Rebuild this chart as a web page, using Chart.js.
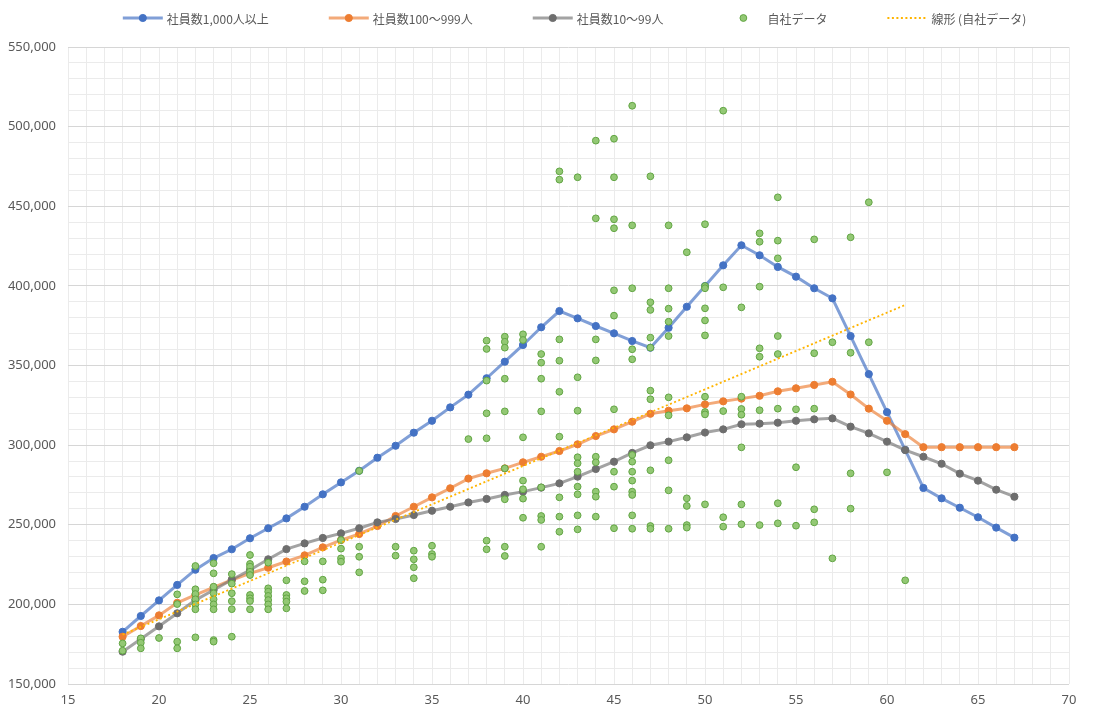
<!DOCTYPE html>
<html>
<head>
<meta charset="utf-8">
<script src="https://cdn.jsdelivr.net/npm/chart.js@4.4.0/dist/chart.umd.min.js"></script>
<style>
html,body{margin:0;padding:0;background:#ffffff;}
#wrap{width:1095px;height:716px;position:relative;}
</style>
</head>
<body>
<div id="wrap"><canvas id="c" width="1095" height="716"></canvas></div>
<script>
// ---- data ----
const seriesLabels = ['社員数1,000人以上', '社員数100〜999人', '社員数10〜99人', '自社データ', '線形 (自社データ)'];

const ages = [18,19,20,21,22,23,24,25,26,27,28,29,30,31,32,33,34,35,36,37,38,39,40,41,42,
              43,44,45,46,47,48,49,50,51,52,53,54,55,56,57,58,59,60,61,62,63,64,65,66,67];

const payLarge = [182800,192700,202500,212200,221800,229100,234600,241500,247800,254000,
                  261300,269100,276600,283900,292100,299600,307800,315300,323700,331700,
                  342000,352400,362900,374000,384200,379600,374800,370200,365400,361200,
                  373700,386900,399900,412900,425500,419200,411900,405800,398500,392200,
                  368500,344600,320700,297000,273100,266600,260700,254700,248200,241900];

const payMedium = [179700,186400,193100,201000,205900,210700,215300,219500,223000,226900,
                   230800,235800,240400,244200,249200,255500,261300,267200,272900,279000,
                   282300,285400,289200,292700,296300,300500,305700,309900,314700,319700,
                   321600,323100,325600,327500,329200,331000,333800,335700,337800,339800,
                   331800,322900,315300,306900,298700,298700,298700,298700,298700,298700];

const paySmall = [170300,178200,186200,194400,202700,209000,215500,221600,228300,234700,
                  238300,241700,244600,247800,251500,253600,256100,258800,261300,264000,
                  266200,268700,270800,273300,276000,280200,285000,289600,295100,299900,
                  302200,304900,307900,309900,313100,313500,314100,315300,316200,316800,
                  311600,307400,302200,296900,292700,288300,282100,277700,272000,267600];

const ownAges = [
  18,18,
  19,19,19,
  20,
  21,21,21,21,
  22,22,22,22,22,22,22,
  23,23,23,23,23,23,23,23,23,
  24,24,24,24,24,24,
  25,25,25,25,25,25,25,25,25,
  26,26,26,26,26,26,26,
  27,27,27,27,27,
  28,28,28,
  29,29,29,
  30,30,30,30,
  31,31,31,31,
  33,33,
  34,34,34,34,
  35,35,35,
  37,
  38,38,38,38,38,38,38,
  39,39,39,39,39,39,39,39,39,
  40,40,40,40,40,40,40,
  41,41,41,41,41,41,41,41,
  42,42,42,42,42,42,42,42,42,
  43,43,43,43,43,43,43,43,43,43,
  44,44,44,44,44,44,44,44,44,
  45,45,45,45,45,45,45,45,45,45,
  46,46,46,46,46,46,46,46,46,46,46,46,46,
  47,47,47,47,47,47,47,47,47,47,
  48,48,48,48,48,48,48,48,48,48,
  49,49,49,49,49,
  50,50,50,50,50,50,50,50,50,50,
  51,51,51,51,51,
  52,52,52,52,52,52,52,
  53,53,53,53,53,53,53,
  54,54,54,54,54,54,54,54,
  55,55,55,
  56,56,56,56,56,
  57,57,
  58,58,58,58,
  59,59,
  60,
  61
];

const ownPay = [
  175500,170900,
  178700,175900,172400,
  178900,
  206300,200200,176600,172400,
  224100,209500,206500,203200,200000,196900,179300,
  225800,219500,211100,206900,203200,200000,196900,177600,176600,
  219000,213000,207000,202000,197000,179700,
  231000,225400,223700,220500,218400,205900,203800,202100,196900,
  226200,210100,208000,205300,202700,200000,196900,
  215100,205900,203800,201700,197500,
  227000,214500,208400,
  227000,215500,208800,
  240400,235000,228900,226800,
  283800,236200,229900,220100,
  236200,230600,
  233700,228300,223300,216400,
  236800,231600,229900,
  303800,
  365600,360400,340500,320000,304300,240000,234600,
  368100,364900,361200,341700,321200,285400,266000,236200,230400,
  369600,366000,304900,277700,272300,266400,254400,
  357200,351800,341700,321200,273500,255500,253000,236200,
  471900,466700,366400,353000,333500,305300,267200,255100,245600,
  468200,342600,321600,292400,288600,283300,273900,269100,255900,247100,
  491200,442400,366400,353200,292700,289200,270800,267600,255100,
  492400,468200,441800,436200,397200,381300,322500,283300,273900,247800,
  513100,438000,398500,360200,353900,293800,289600,283300,277700,270800,268700,255900,247500,
  468800,389700,384900,367500,361200,334200,328800,284200,249200,247500,
  438000,398500,385700,377500,368500,330000,318700,290500,271600,247500,
  421100,266600,261800,249800,248200,
  438700,399900,398500,385900,378300,368900,330400,320800,319300,262800,
  510000,399100,321400,254700,248800,
  386500,330400,322700,319100,298600,262800,250300,
  433000,427700,399500,360800,355500,321900,249800,
  455600,428400,417300,368500,357200,322900,263500,250900,
  322500,286100,249400,
  429200,357700,322900,259700,251500,
  364600,228900,
  430500,358000,282300,260100,
  452500,364600,
  282900,
  215100
];

// linear trendline of the company data: its two end points
const trendAges = [18, 61];
const trendPay = [181000, 388000];

// axis tick labels
const xTickLabels = [15,20,25,30,35,40,45,50,55,60,65,70];
const yTickLabels = [150000,200000,250000,300000,350000,400000,450000,500000,550000];

// ---- build library structures ----
const pts = (xs, ys) => xs.map((x, i) => ({x: x, y: ys[i]}));

const lineDs = (label, ys, line, marker, order) => ({
  label: label,
  data: pts(ages, ys),
  showLine: true,
  borderColor: line,
  backgroundColor: marker,
  borderWidth: 3,
  tension: 0,
  pointRadius: 3.6,
  pointBorderWidth: 1,
  pointBackgroundColor: marker,
  pointBorderColor: marker,
  order: order
});

const datasets = [
  lineDs(seriesLabels[0], payLarge, 'rgba(68,114,196,0.68)', '#4472C4', 4),
  lineDs(seriesLabels[1], payMedium, 'rgba(237,125,49,0.65)', '#ED7D31', 3),
  lineDs(seriesLabels[2], paySmall, 'rgba(120,120,120,0.68)', '#6E6E6E', 2),
  {
    label: seriesLabels[3],
    data: pts(ownAges, ownPay),
    showLine: false,
    pointRadius: 3.4,
    pointBorderWidth: 1,
    pointBackgroundColor: '#93C874',
    pointBorderColor: '#62A544',
    backgroundColor: '#93C874',
    borderColor: '#62A544',
    order: 1
  },
  {
    label: seriesLabels[4],
    data: pts(trendAges, trendPay),
    showLine: true,
    borderColor: '#FFB400',
    backgroundColor: '#FFB400',
    borderWidth: 1.8,
    borderDash: [2, 2.5],
    pointRadius: 0,
    tension: 0,
    order: 0
  }
];

// Excel-like legend (line + marker samples)
const excelLegend = {
  id: 'excelLegend',
  afterDraw(chart) {
    const ctx = chart.ctx;
    const dsList = chart.data.datasets;
    ctx.save();
    ctx.font = '12px "Noto Sans CJK JP", "Noto Sans", sans-serif';
    const sampleW = 40, textGap = 4, itemGap = 60;
    const widths = dsList.map(d => sampleW + textGap + ctx.measureText(d.label).width);
    const total = widths.reduce((a, b) => a + b, 0) + itemGap * (dsList.length - 1);
    const center = (chart.chartArea.left + chart.chartArea.right) / 2 + 6;
    let x = center - total / 2;
    const y = 18;
    dsList.forEach((d, i) => {
      const mid = x + sampleW / 2;
      if (d.showLine) {
        ctx.beginPath();
        ctx.setLineDash(d.borderDash || []);
        ctx.strokeStyle = d.borderColor;
        ctx.lineWidth = d.borderWidth;
        ctx.moveTo(x, y);
        ctx.lineTo(x + sampleW, y);
        ctx.stroke();
        ctx.setLineDash([]);
      }
      if (d.pointRadius > 0) {
        ctx.beginPath();
        ctx.arc(mid, y, d.pointRadius, 0, Math.PI * 2);
        ctx.fillStyle = d.pointBackgroundColor;
        ctx.fill();
        ctx.lineWidth = 1;
        ctx.strokeStyle = d.pointBorderColor;
        ctx.stroke();
      }
      ctx.fillStyle = '#595959';
      ctx.textBaseline = 'middle';
      ctx.textAlign = 'left';
      ctx.fillText(d.label, x + sampleW + textGap, y + 1);
      x += widths[i] + itemGap;
    });
    ctx.restore();
  }
};

const tickFont = {family: '"Noto Sans", "DejaVu Sans", sans-serif', size: 13};

new Chart(document.getElementById('c'), {
  type: 'scatter',
  data: {datasets: datasets},
  plugins: [excelLegend],
  options: {
    responsive: false,
    devicePixelRatio: 1,
    animation: false,
    layout: {padding: {top: 47, right: 26, bottom: 0, left: 0}},
    plugins: {
      legend: {display: false},
      tooltip: {enabled: false}
    },
    scales: {
      x: {
        type: 'linear',
        min: xTickLabels[0],
        max: xTickLabels[xTickLabels.length - 1],
        afterFit(scale) { scale.height = 32; },
        ticks: {
          stepSize: 1,
          autoSkip: false,
          maxRotation: 0,
          padding: 8,
          color: '#595959',
          font: tickFont,
          callback: v => xTickLabels.includes(v) ? String(v) : ''
        },
        grid: {color: '#ebebeb', lineWidth: 1, drawTicks: false},
        border: {display: false}
      },
      y: {
        type: 'linear',
        min: yTickLabels[0],
        max: yTickLabels[yTickLabels.length - 1],
        afterFit(scale) { scale.width = 68; },
        ticks: {
          stepSize: 10000,
          autoSkip: false,
          padding: 12,
          color: '#595959',
          font: tickFont,
          callback: v => yTickLabels.includes(v) ? v.toLocaleString('en-US') : ''
        },
        grid: {
          color: ctx => (ctx.tick && yTickLabels.includes(ctx.tick.value)) ? '#d6d6d6' : '#ebebeb',
          lineWidth: 1,
          drawTicks: false
        },
        border: {display: false}
      }
    }
  }
});
</script>
</body>
</html>
